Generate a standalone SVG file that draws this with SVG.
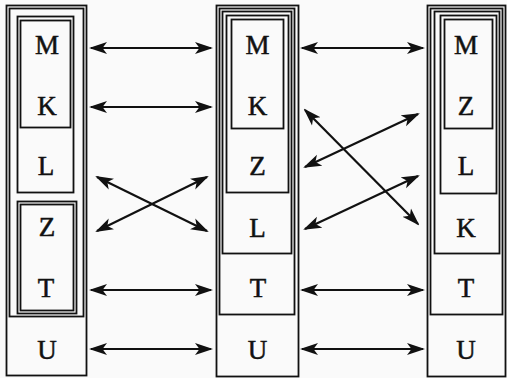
<svg xmlns="http://www.w3.org/2000/svg" width="507" height="378" viewBox="0 0 507 378">
<defs>
<style>
.b{fill:none;stroke:#111;stroke-width:1.8}
.t{font-family:"Liberation Serif","Times New Roman",serif;font-size:27px;fill:#111;stroke:#111;stroke-width:0.5;text-anchor:middle}
.a{fill:none;stroke:#111;stroke-width:2.2;marker-start:url(#ah);marker-end:url(#ah)}
</style>
<marker id="ah" viewBox="0 -7 18 14" refX="16" refY="0" markerWidth="18" markerHeight="14" markerUnits="userSpaceOnUse" orient="auto-start-reverse">
<path d="M18 0 L0 -6 L4.5 0 L0 6 Z" fill="#111"/>
</marker>
</defs>
<rect width="507" height="378" fill="#fafafa"/>
<g id="col-left">
<rect class="b" x="6.5" y="5.5" width="80" height="370"/>
<rect class="b" x="9.5" y="8.5" width="74" height="308"/>
<rect class="b" x="17.5" y="16.5" width="56" height="176"/>
<rect class="b" x="20.5" y="20.5" width="50" height="107"/>
<rect class="b" x="17.5" y="201.5" width="59" height="112"/>
<rect class="b" x="20.5" y="204.5" width="53" height="106"/>
<text class="t" x="47" y="54">M</text>
<text class="t" x="47" y="115">K</text>
<text class="t" x="46" y="175">L</text>
<text class="t" x="47" y="236">Z</text>
<text class="t" x="46" y="297">T</text>
<text class="t" x="47" y="359">U</text>
</g>
<g id="col-middle">
<rect class="b" x="216.5" y="5.5" width="82" height="371"/>
<rect class="b" x="219.5" y="8.5" width="75" height="306"/>
<rect class="b" x="222.5" y="11.5" width="69" height="242"/>
<rect class="b" x="226.5" y="15.5" width="62" height="177"/>
<rect class="b" x="231.5" y="19.5" width="52" height="109"/>
<text class="t" x="257.5" y="54">M</text>
<text class="t" x="257.5" y="115">K</text>
<text class="t" x="257.5" y="175">Z</text>
<text class="t" x="257.5" y="237">L</text>
<text class="t" x="258" y="297">T</text>
<text class="t" x="257.5" y="359">U</text>
</g>
<g id="col-right">
<rect class="b" x="427.5" y="5.5" width="78" height="371"/>
<rect class="b" x="430.5" y="8.5" width="72" height="306"/>
<rect class="b" x="434.5" y="11.5" width="65" height="242"/>
<rect class="b" x="440.5" y="15.5" width="56" height="178"/>
<rect class="b" x="444.5" y="19.5" width="48" height="109"/>
<text class="t" x="466" y="54">M</text>
<text class="t" x="466" y="115">Z</text>
<text class="t" x="466" y="175">L</text>
<text class="t" x="466" y="237">K</text>
<text class="t" x="466" y="297">T</text>
<text class="t" x="466" y="359">U</text>
</g>
<g id="connectors">
<line class="a" x1="91" y1="48" x2="211" y2="48"/>
<line class="a" x1="91" y1="107" x2="211" y2="107"/>
<line class="a" x1="97" y1="177" x2="207" y2="231"/>
<line class="a" x1="97" y1="231" x2="207" y2="177"/>
<line class="a" x1="91" y1="290" x2="211" y2="290"/>
<line class="a" x1="91" y1="349" x2="211" y2="349"/>
<line class="a" x1="302" y1="48" x2="423" y2="48"/>
<line class="a" x1="305" y1="110" x2="418" y2="224"/>
<line class="a" x1="305" y1="167" x2="418" y2="114"/>
<line class="a" x1="305" y1="229" x2="418" y2="176"/>
<line class="a" x1="302" y1="290" x2="423" y2="290"/>
<line class="a" x1="302" y1="349" x2="423" y2="349"/>
</g>
</svg>
